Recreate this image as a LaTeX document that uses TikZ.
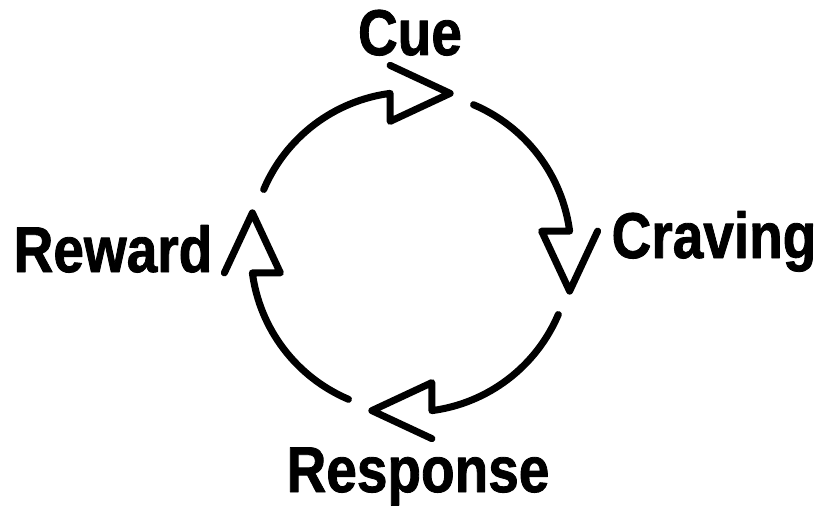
\documentclass[tikz,border=0pt]{standalone}
\usepackage{fontspec}
\newfontfamily\cyclefont{Liberation Sans}[FakeStretch=0.85, FakeBold=1.3]
\usetikzlibrary{positioning, calc}

\begin{document}
\begin{tikzpicture}[x=0.025cm, y=0.025cm, line width=5pt, line cap=round, line join=round,
  habit/.style={font=\cyclefont\bfseries\fontsize{46}{52}\selectfont, inner sep=0pt, anchor=base}]
  \useasboundingbox (-411,-254) rectangle (409,252);
  \pgfmathsetmacro{\loopRadius}{160};
  \pgfmathsetmacro{\headLen}{60};
  \pgfmathsetmacro{\headWid}{28};

  % four arcs, each ending in an open head
  \foreach \i in {0,1,2,3}{
    \pgfmathsetmacro{\arcFrom}{157-90*\i};
    \pgfmathsetmacro{\arcTo}{97.5-90*\i};
    \pgfmathsetmacro{\headDir}{-90*\i};
    \pgfmathsetmacro{\headIn}{\headDir-90};
    \pgfmathsetmacro{\headOut}{\headDir+90};
    \coordinate (end\i) at (\arcTo:\loopRadius);
    \draw (\arcFrom:\loopRadius) arc[start angle=\arcFrom, end angle=\arcTo, radius=\loopRadius]
      -- ($(end\i)+(\headIn:\headWid)$) -- ($(end\i)+(\headDir:\headLen)$) -- ($(end\i)+(\headOut:\headWid)$);
  }

  \node[habit] (cue) at (-1,197) {Cue};
  \node[habit] (craving) at (303,-6) {Craving};
  \node[habit] (response) at (7,-240) {Response};
  \node[habit] (reward) at (-298,-20) {Reward};
\end{tikzpicture}
\end{document}
